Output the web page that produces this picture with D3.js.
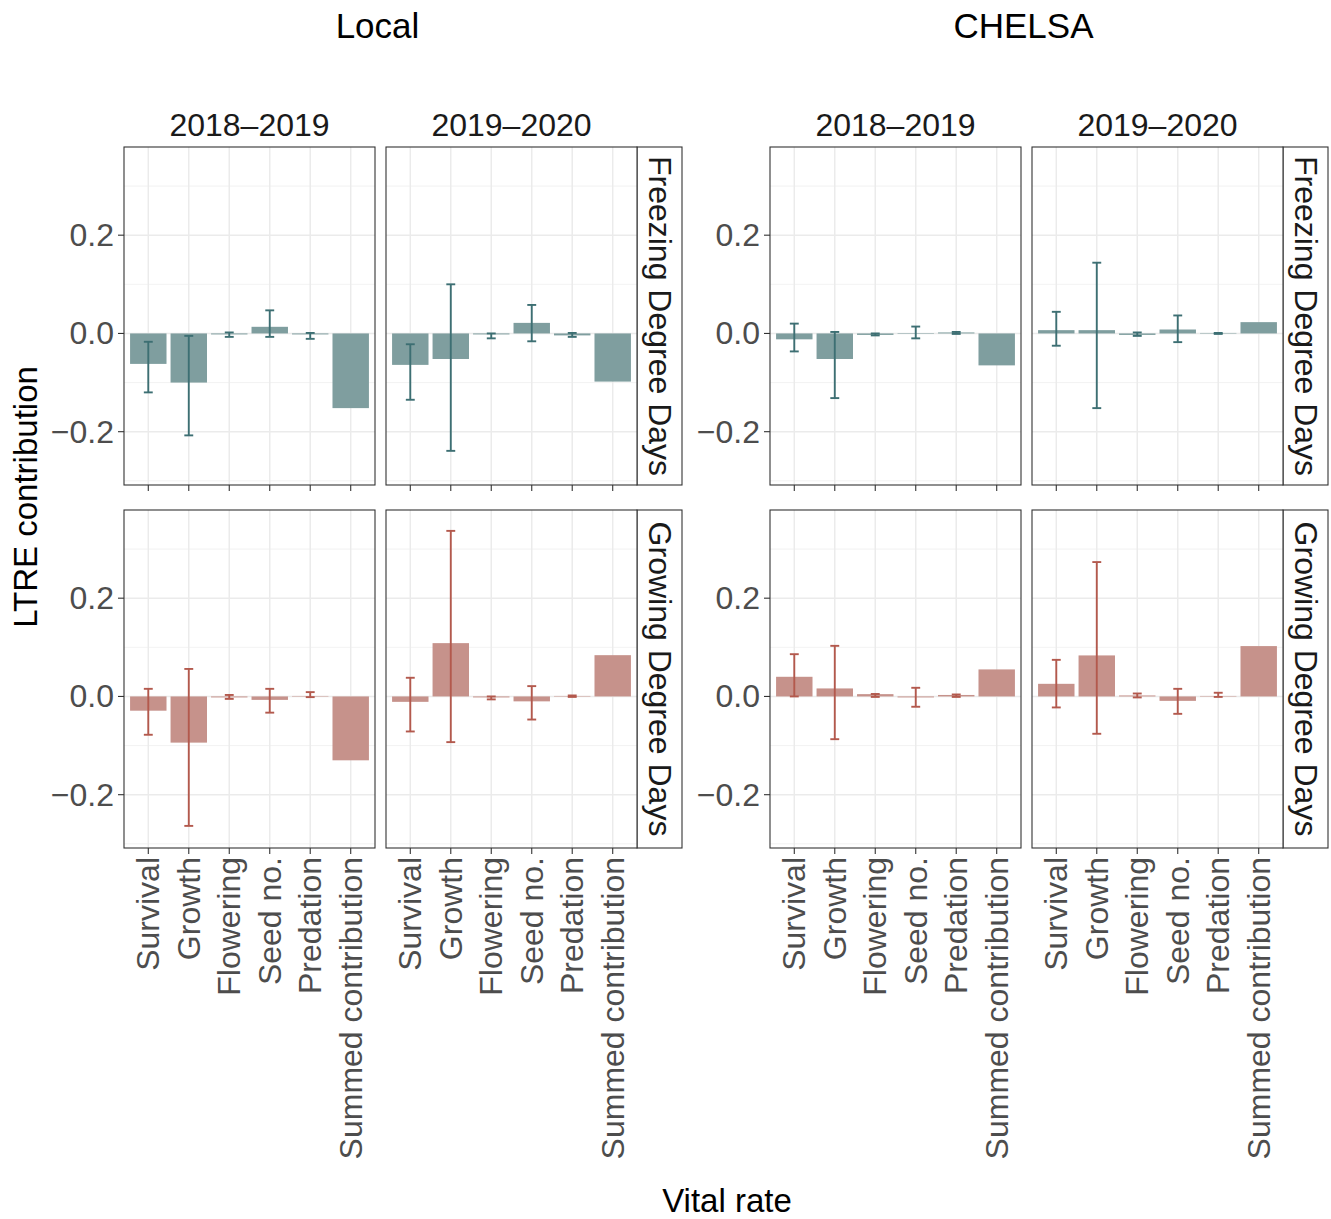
<!DOCTYPE html>
<html lang="en">
<head>
  <meta charset="UTF-8">
  <title>LTRE contributions by vital rate</title>
  <script src="https://d3js.org/d3.v7.min.js"></script>
  <style>
    body {
      margin: 0;
      background-color: #fff;
    }
    svg {
      font-family: "Liberation Sans", Arial, sans-serif;
    }
    .grid-major { stroke: #ebebeb; stroke-width: 1.5; }
    .grid-minor { stroke: #f0f0f0; stroke-width: 0.9; }
    .panel-border { fill: none; stroke: #333; stroke-width: 1.1; }
    .tick { stroke: #333; stroke-width: 1.1; }
    .tick-label { fill: #4d4d4d; font-size: 32px; }
    .strip-text { fill: #1a1a1a; font-size: 32px; }
  </style>
</head>
<body>
  <svg id="chart" width="1331" height="1219"></svg>

  <script>
    // categories
    const vitalRates = ["Survival", "Growth", "Flowering", "Seed no.", "Predation", "Summed contribution"];
    const sources = ["Local", "CHELSA"];
    const years = ["2018\u20132019", "2019\u20132020"];
    const drivers = ["Freezing Degree Days", "Growing Degree Days"];
    const yTicks = [-0.2, 0.0, 0.2];
    const yMinor = [-0.3, -0.1, 0.1, 0.3];

    // Local, Freezing Degree Days
    const localFdd1819 = [-0.062, -0.100, -0.002, 0.0135, -0.002, -0.152];
    const localFdd1819Lo = [-0.120, -0.2075, -0.007, -0.007, -0.011, null];
    const localFdd1819Hi = [-0.017, -0.005, 0.002, 0.047, 0.001, null];
    const localFdd1920 = [-0.064, -0.052, -0.002, 0.0215, -0.004, -0.098];
    const localFdd1920Lo = [-0.135, -0.239, -0.010, -0.016, -0.007, null];
    const localFdd1920Hi = [-0.022, 0.100, 0.000, 0.058, 0.001, null];

    // CHELSA, Freezing Degree Days
    const chelsaFdd1819 = [-0.012, -0.052, -0.003, -0.001, 0.002, -0.065];
    const chelsaFdd1819Lo = [-0.0366, -0.1316, -0.004, -0.010, -0.001, null];
    const chelsaFdd1819Hi = [0.020, 0.003, 0.000, 0.014, 0.003, null];
    const chelsaFdd1920 = [0.0067, 0.0067, -0.003, 0.008, 0.001, 0.023];
    const chelsaFdd1920Lo = [-0.025, -0.152, -0.005, -0.0177, -0.001, null];
    const chelsaFdd1920Hi = [0.044, 0.144, 0.002, 0.0366, 0.001, null];

    // Local, Growing Degree Days
    const localGdd1819 = [-0.029, -0.094, -0.002, -0.007, 0.001, -0.130];
    const localGdd1819Lo = [-0.078, -0.2635, -0.005, -0.033, -0.0014, null];
    const localGdd1819Hi = [0.0155, 0.056, 0.003, 0.0155, 0.0088, null];
    const localGdd1920 = [-0.011, 0.1085, -0.002, -0.010, 0.001, 0.084];
    const localGdd1920Lo = [-0.0713, -0.093, -0.006, -0.047, -0.001, null];
    const localGdd1920Hi = [0.038, 0.337, 0.000, 0.021, 0.002, null];

    // CHELSA, Growing Degree Days
    const chelsaGdd1819 = [0.040, 0.0163, 0.0047, -0.002, 0.003, 0.055];
    const chelsaGdd1819Lo = [0.000, -0.087, -0.001, -0.021, -0.001, null];
    const chelsaGdd1819Hi = [0.086, 0.103, 0.005, 0.0176, 0.004, null];
    const chelsaGdd1920 = [0.0257, 0.0835, 0.002, -0.009, 0.001, 0.1025];
    const chelsaGdd1920Lo = [-0.0224, -0.076, -0.002, -0.0354, -0.001, null];
    const chelsaGdd1920Hi = [0.0745, 0.2735, 0.006, 0.0155, 0.0075, null];

    // panels[source][driver][year] = [values, lower, upper]
    const panels = {
      Local: [
        [[localFdd1819, localFdd1819Lo, localFdd1819Hi], [localFdd1920, localFdd1920Lo, localFdd1920Hi]],
        [[localGdd1819, localGdd1819Lo, localGdd1819Hi], [localGdd1920, localGdd1920Lo, localGdd1920Hi]]
      ],
      CHELSA: [
        [[chelsaFdd1819, chelsaFdd1819Lo, chelsaFdd1819Hi], [chelsaFdd1920, chelsaFdd1920Lo, chelsaFdd1920Hi]],
        [[chelsaGdd1819, chelsaGdd1819Lo, chelsaGdd1819Hi], [chelsaGdd1920, chelsaGdd1920Lo, chelsaGdd1920Hi]]
      ]
    };

    const barFill = ["#7f9e9f", "#c6928b"];
    const errColor = ["#3d6f73", "#b3594d"];

    // layout
    const groupLeft = [124, 770];
    const panelW = 251, panelGap = 11, stripW = 45;
    const rowTop = [147, 510];
    const panelH = 338;

    const svg = d3.select("#chart");

    const x = d3.scalePoint()
      .domain(vitalRates)
      .range([0, panelW])
      .padding(0.6);
    const step = x.step();

    const y = d3.scaleLinear()
      .domain([-0.3085, 0.3795])
      .range([panelH, 0]);

    sources.forEach((src, si) => {
      const gx = groupLeft[si];

      // group title, centred over the two panels
      svg.append("text")
        .attr("x", gx + (2 * panelW + panelGap) / 2 - 3)
        .attr("y", 25)
        .attr("text-anchor", "middle")
        .attr("dominant-baseline", "central")
        .style("font-size", "35px")
        .text(src);

      years.forEach((yr, ci) => {
        const px = gx + ci * (panelW + panelGap);
        // column strip
        svg.append("text")
          .attr("class", "strip-text")
          .attr("x", px + panelW / 2)
          .attr("y", 125)
          .attr("text-anchor", "middle")
          .attr("dominant-baseline", "central")
          .text(yr);
      });

      drivers.forEach((drv, ri) => {
        const py = rowTop[ri];

        // row strip at right
        const sx = gx + 2 * panelW + panelGap;
        svg.append("rect")
          .attr("x", sx).attr("y", py)
          .attr("width", stripW).attr("height", panelH)
          .attr("fill", "#fff")
          .attr("class", "panel-border");
        svg.append("text")
          .attr("class", "strip-text")
          .attr("transform", `translate(${sx + stripW / 2},${py + panelH / 2}) rotate(90)`)
          .attr("text-anchor", "middle")
          .attr("dominant-baseline", "central")
          .text(drv);

        // y axis on the left panel of each group
        const ya = svg.append("g").attr("transform", `translate(${gx},${py})`);
        yTicks.forEach(t => {
          ya.append("line").attr("class", "tick")
            .attr("x1", -6).attr("x2", 0)
            .attr("y1", y(t)).attr("y2", y(t));
          ya.append("text").attr("class", "tick-label")
            .attr("x", -10).attr("y", y(t))
            .attr("text-anchor", "end")
            .attr("dominant-baseline", "central")
            .text(d3.format(".1f")(t).replace("-", "\u2212"));
        });

        years.forEach((yr, ci) => {
          const px = gx + ci * (panelW + panelGap);
          const [vals, lo, hi] = panels[src][ri][ci];
          const g = svg.append("g").attr("transform", `translate(${px},${py})`);

          g.append("rect")
            .attr("width", panelW).attr("height", panelH)
            .attr("fill", "#fff");

          g.selectAll(".gminor").data(yMinor).join("line")
            .attr("class", "grid-minor")
            .attr("x1", 0).attr("x2", panelW)
            .attr("y1", d => y(d)).attr("y2", d => y(d));
          g.selectAll(".gy").data(yTicks).join("line")
            .attr("class", "grid-major")
            .attr("x1", 0).attr("x2", panelW)
            .attr("y1", d => y(d)).attr("y2", d => y(d));
          g.selectAll(".gx").data(vitalRates).join("line")
            .attr("class", "grid-major")
            .attr("x1", d => x(d)).attr("x2", d => x(d))
            .attr("y1", 0).attr("y2", panelH);

          const rows = vitalRates.map((v, i) => ({ v, val: vals[i], lo: lo[i], hi: hi[i] }));

          // bars
          g.selectAll(".bar").data(rows).join("rect")
            .attr("x", d => x(d.v) - 0.45 * step)
            .attr("width", 0.9 * step)
            .attr("y", d => y(Math.max(0, d.val)))
            .attr("height", d => Math.abs(y(d.val) - y(0)))
            .attr("fill", barFill[ri]);

          // error bars
          const eb = rows.filter(d => d.lo !== null);
          const w = 0.11 * step;
          const eg = g.selectAll(".err").data(eb).join("g")
            .attr("stroke", errColor[ri])
            .attr("stroke-width", 1.9);
          eg.append("line")
            .attr("x1", d => x(d.v)).attr("x2", d => x(d.v))
            .attr("y1", d => y(d.lo)).attr("y2", d => y(d.hi));
          eg.append("line")
            .attr("x1", d => x(d.v) - w).attr("x2", d => x(d.v) + w)
            .attr("y1", d => y(d.lo)).attr("y2", d => y(d.lo));
          eg.append("line")
            .attr("x1", d => x(d.v) - w).attr("x2", d => x(d.v) + w)
            .attr("y1", d => y(d.hi)).attr("y2", d => y(d.hi));

          g.append("rect")
            .attr("class", "panel-border")
            .attr("width", panelW).attr("height", panelH);

          // x ticks
          g.selectAll(".xt").data(vitalRates).join("line")
            .attr("class", "tick")
            .attr("x1", d => x(d)).attr("x2", d => x(d))
            .attr("y1", panelH).attr("y2", panelH + 6);

          if (ri === drivers.length - 1) {
            g.selectAll(".xl").data(vitalRates).join("text")
              .attr("class", "tick-label")
              .attr("transform", d => `translate(${x(d)},${panelH + 9}) rotate(-90)`)
              .attr("text-anchor", "end")
              .attr("dominant-baseline", "central")
              .text(d => d);
          }
        });
      });
    });

    // axis titles
    svg.append("text")
      .attr("transform", "translate(25,497) rotate(-90)")
      .attr("text-anchor", "middle")
      .attr("dominant-baseline", "central")
      .style("font-size", "33px")
      .text("LTRE contribution");

    svg.append("text")
      .attr("x", 727)
      .attr("y", 1200)
      .attr("text-anchor", "middle")
      .attr("dominant-baseline", "central")
      .style("font-size", "33px")
      .text("Vital rate");
  </script>
</body>
</html>
